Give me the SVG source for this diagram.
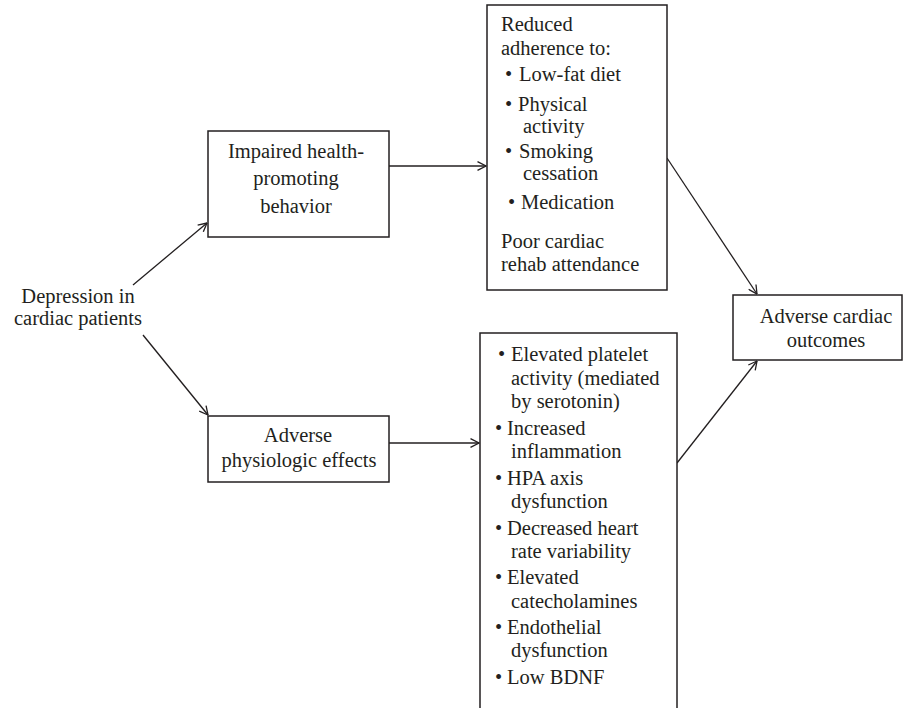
<svg xmlns="http://www.w3.org/2000/svg" width="903" height="708" viewBox="0 0 903 708">
<style>
text{font-family:"Liberation Serif","Times New Roman",serif;font-size:20.5px;fill:#231f20}
.c{text-anchor:middle}
.box{fill:#fff;stroke:#231f20;stroke-width:1.5}
.ln{fill:none;stroke:#231f20;stroke-width:1.3}
</style>
<defs>
<marker id="arr" viewBox="0 0 10 10" refX="9.5" refY="5" markerWidth="10" markerHeight="10" markerUnits="userSpaceOnUse" orient="auto">
<path d="M1,0.6 L9.5,5 L1,9.4" fill="none" stroke="#231f20" stroke-width="1.3"/>
</marker>
</defs>
<rect width="903" height="708" fill="#fff"/>
<g id="connectors">
<line class="ln" x1="133" y1="285" x2="207" y2="223" marker-end="url(#arr)"/>
<line class="ln" x1="143" y1="335" x2="208" y2="415" marker-end="url(#arr)"/>
<line class="ln" x1="389" y1="166" x2="486" y2="166" marker-end="url(#arr)"/>
<line class="ln" x1="389" y1="443" x2="479" y2="443" marker-end="url(#arr)"/>
<line class="ln" x1="667" y1="158" x2="757" y2="294" marker-end="url(#arr)"/>
<line class="ln" x1="677" y1="463" x2="757" y2="361" marker-end="url(#arr)"/>
</g>
<g id="depression">
<text class="c" x="78" y="303">Depression in</text>
<text class="c" x="78" y="325">cardiac patients</text>
</g>
<g id="impaired">
<rect class="box" x="208" y="131" width="181" height="106"/>
<text class="c" x="296" y="158">Impaired health-</text>
<text class="c" x="296" y="185">promoting</text>
<text class="c" x="296" y="213">behavior</text>
</g>
<g id="physiologic">
<rect class="box" x="208" y="416" width="181" height="66"/>
<text class="c" x="298" y="442">Adverse</text>
<text class="c" x="299" y="467">physiologic effects</text>
</g>
<g id="reduced">
<rect class="box" x="487" y="5" width="180" height="285"/>
<text x="501" y="31">Reduced</text>
<text x="501" y="55">adherence to:</text>
<text x="505" y="81">•</text><text x="519" y="81">Low-fat diet</text>
<text x="505" y="111">•</text><text x="518" y="111">Physical</text>
<text x="523" y="133">activity</text>
<text x="505" y="158">•</text><text x="519" y="158">Smoking</text>
<text x="523" y="180">cessation</text>
<text x="508" y="209">•</text><text x="521" y="209">Medication</text>
<text x="501" y="248">Poor cardiac</text>
<text x="501" y="271">rehab attendance</text>
</g>
<g id="effects">
<rect class="box" x="480" y="333" width="197" height="400"/>
<text x="498" y="361">•</text><text x="511" y="361">Elevated platelet</text>
<text x="511" y="385">activity (mediated</text>
<text x="511" y="408">by serotonin)</text>
<text x="495" y="435">•</text><text x="507" y="435">Increased</text>
<text x="511" y="458">inflammation</text>
<text x="495" y="485">•</text><text x="507" y="485">HPA axis</text>
<text x="511" y="508">dysfunction</text>
<text x="495" y="535">•</text><text x="507" y="535">Decreased heart</text>
<text x="511" y="558">rate variability</text>
<text x="495" y="584">•</text><text x="507" y="584">Elevated</text>
<text x="511" y="608">catecholamines</text>
<text x="495" y="634">•</text><text x="507" y="634">Endothelial</text>
<text x="511" y="657">dysfunction</text>
<text x="495" y="684">•</text><text x="507" y="684">Low BDNF</text>
</g>
<g id="outcomes">
<rect class="box" x="733" y="295" width="169" height="65"/>
<text class="c" x="826" y="323">Adverse cardiac</text>
<text class="c" x="826" y="347">outcomes</text>
</g>
</svg>
